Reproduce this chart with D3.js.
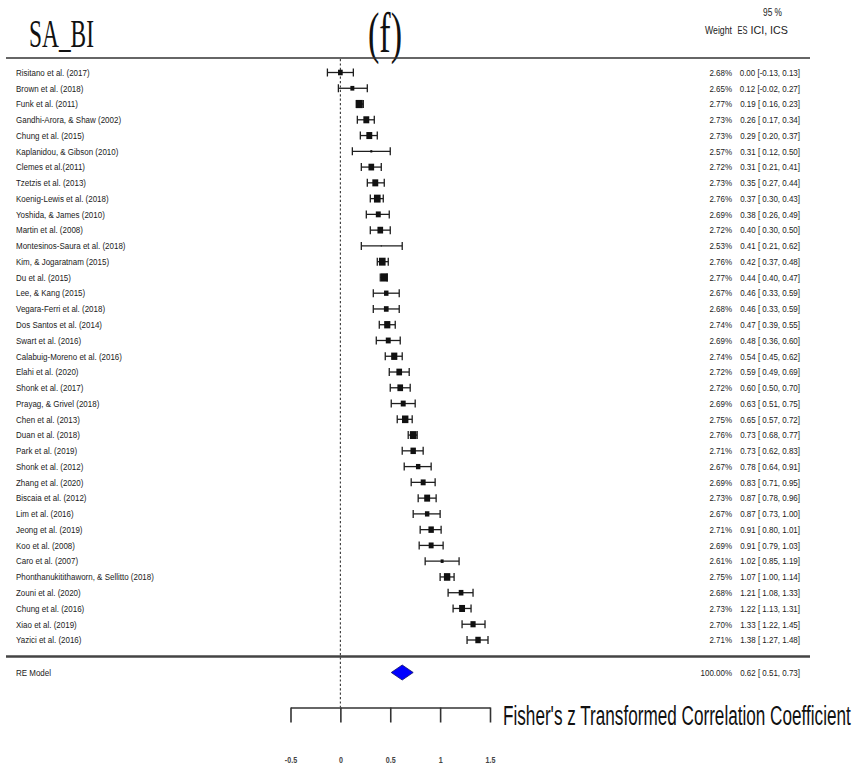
<!DOCTYPE html>
<html><head><meta charset="utf-8">
<script src="https://cdn.jsdelivr.net/npm/d3@7"></script>
<style>body{margin:0;background:#fff} svg{display:block} text{white-space:pre}</style>
</head><body>
<svg id="c" width="857" height="771"></svg>
<script>
// ---------- data ----------
const studies = [
"Risitano et al. (2017)","Brown et al. (2018)","Funk et al. (2011)","Gandhi-Arora, & Shaw (2002)",
"Chung et al. (2015)","Kaplanidou, & Gibson (2010)","Clemes et al.(2011)","Tzetzis et al. (2013)",
"Koenig-Lewis et al. (2018)","Yoshida, & James (2010)","Martin et al. (2008)","Montesinos-Saura et al. (2018)",
"Kim, & Jogaratnam (2015)","Du et al. (2015)","Lee, & Kang (2015)","Vegara-Ferri et al. (2018)",
"Dos Santos et al. (2014)","Swart et al. (2016)","Calabuig-Moreno et al. (2016)","Elahi et al. (2020)",
"Shonk et al. (2017)","Prayag, & Grivel (2018)","Chen et al. (2013)","Duan et al. (2018)",
"Park et al. (2019)","Shonk et al. (2012)","Zhang et al. (2020)","Biscaia et al. (2012)",
"Lim et al. (2016)","Jeong et al. (2019)","Koo et al. (2008)","Caro et al. (2007)",
"Phonthanukitithaworn, & Sellitto (2018)","Zouni et al. (2020)","Chung et al. (2016)","Xiao et al. (2019)",
"Yazici et al. (2016)"];
const weights = [2.68,2.65,2.77,2.73,2.73,2.57,2.72,2.73,2.76,2.69,2.72,2.53,2.76,2.77,2.67,2.68,2.74,2.69,2.74,2.72,
2.72,2.69,2.75,2.76,2.71,2.67,2.69,2.73,2.67,2.71,2.69,2.61,2.75,2.68,2.73,2.70,2.71];
const es = [0.00,0.12,0.19,0.26,0.29,0.31,0.31,0.35,0.37,0.38,0.40,0.41,0.42,0.44,0.46,0.46,0.47,0.48,0.54,0.59,
0.60,0.63,0.65,0.73,0.73,0.78,0.83,0.87,0.87,0.91,0.91,1.02,1.07,1.21,1.22,1.33,1.38];
const ciLow = [-0.13,-0.02,0.16,0.17,0.20,0.12,0.21,0.27,0.30,0.26,0.30,0.21,0.37,0.40,0.33,0.33,0.39,0.36,0.45,0.49,
0.50,0.51,0.57,0.68,0.62,0.64,0.71,0.78,0.73,0.80,0.79,0.85,1.00,1.08,1.13,1.22,1.27];
const ciHigh = [0.13,0.27,0.23,0.34,0.37,0.50,0.41,0.44,0.43,0.49,0.50,0.62,0.48,0.47,0.59,0.59,0.55,0.60,0.62,0.69,
0.70,0.75,0.72,0.77,0.83,0.91,0.95,0.96,1.00,1.01,1.03,1.19,1.14,1.33,1.31,1.45,1.48];
const summaryLabel = "RE Model";
const summaryWeight = "100.00%";
const summaryES = 0.62, summaryLow = 0.51, summaryHigh = 0.73;
const xTicks = [-0.5, 0, 0.5, 1, 1.5];
const xTickLabels = ["-0.5","0","0.5","1","1.5"];
const titleText = "SA_BI", panelText = "(f)";
const xAxisTitle = "Fisher's z Transformed Correlation Coefficient";

// ---------- drawing ----------
const svg = d3.select("#c");
const SANS = "'Liberation Sans', Arial, sans-serif";
const SERIF = "'Liberation Serif', 'Times New Roman', serif";
const SX = 0.84; // horizontal condensation of small text

// place a text starting at (x0, yb) and squeeze it horizontally to a target width
function fitText(txt, x0, yb, width, family, fs, fill) {
  const t = svg.append("text").attr("font-family", family).attr("font-size", fs).attr("fill", fill || "#111").text(txt);
  const w = t.node().getComputedTextLength();
  t.attr("transform", `translate(${x0},${yb}) scale(${width / w},1)`);
  return t;
}

const x = d3.scaleLinear().domain([-0.5, 1.5]).range([290.5, 490]);
const y = d3.scalePoint().domain(d3.range(studies.length)).range([72.5, 640]);
const ySum = 672.5;
const size = d3.scaleLinear().domain([d3.min(weights), d3.max(weights)]).range([1.2, 8.2]);
const fmt = v => v.toFixed(2);
const ciText = (e, l, h) => `${fmt(e)} [${l < 0 ? "" : " "}${fmt(l)}, ${fmt(h)}]`;

// title
fitText(titleText, 29, 47, 65, SERIF, 40);
fitText(panelText, 368, 52, 34, SERIF, 56);

// header right
fitText("95 %", 763, 16, 19, SANS, 10.5, "#222");
fitText("Weight", 705, 34, 27, SANS, 10.5, "#222");
fitText("ES", 737.5, 34, 10, SANS, 10.5, "#222");
fitText("ICI, ICS", 750.5, 34, 37.5, SANS, 10.5, "#222");

// horizontal rules
svg.append("line").attr("x1", 6).attr("x2", 810).attr("y1", 58).attr("y2", 58)
  .attr("stroke", "#333").attr("stroke-width", 1.6);
svg.append("line").attr("x1", 6).attr("x2", 810).attr("y1", 656.5).attr("y2", 656.5)
  .attr("stroke", "#444").attr("stroke-width", 2.6);

// zero reference line
svg.append("line").attr("x1", x(0)).attr("x2", x(0)).attr("y1", 59).attr("y2", 707)
  .attr("stroke", "#333").attr("stroke-width", 1.1).attr("stroke-dasharray", "2.2,2.2");

// study labels
const lab = svg.append("g").attr("font-family", SANS).attr("font-size", 9.5).attr("fill", "#1a1a1a");
lab.selectAll("text.s").data(studies).join("text").attr("class", "s")
  .attr("transform", (d, i) => `translate(16,${y(i) + 3.3}) scale(${SX},1)`).text(d => d);
lab.append("text").attr("transform", `translate(16,${ySum + 3.3}) scale(${SX},1)`).text(summaryLabel);

// right columns
lab.selectAll("text.w").data(weights).join("text").attr("class", "w").attr("text-anchor", "end")
  .attr("transform", (d, i) => `translate(732,${y(i) + 3.3}) scale(${SX},1)`).text(d => fmt(d) + "%");
lab.selectAll("text.e").data(es).join("text").attr("class", "e").attr("text-anchor", "end")
  .attr("transform", (d, i) => `translate(800,${y(i) + 3.3}) scale(${SX},1)`)
  .text((d, i) => ciText(d, ciLow[i], ciHigh[i]));
lab.append("text").attr("text-anchor", "end").attr("transform", `translate(732,${ySum + 3.3}) scale(${SX},1)`).text(summaryWeight);
lab.append("text").attr("text-anchor", "end").attr("transform", `translate(800,${ySum + 3.3}) scale(${SX},1)`)
  .text(ciText(summaryES, summaryLow, summaryHigh));

// CIs
const ci = svg.append("g").attr("stroke", "#1e1e1e").attr("stroke-width", 1.3).attr("fill", "none");
es.forEach((d, i) => {
  const yy = y(i);
  ci.append("line").attr("x1", x(ciLow[i])).attr("x2", x(ciHigh[i])).attr("y1", yy).attr("y2", yy);
  ci.append("line").attr("x1", x(ciLow[i])).attr("x2", x(ciLow[i])).attr("y1", yy - 4).attr("y2", yy + 4);
  ci.append("line").attr("x1", x(ciHigh[i])).attr("x2", x(ciHigh[i])).attr("y1", yy - 4).attr("y2", yy + 4);
});
// squares
svg.append("g").attr("fill", "#111").selectAll("rect").data(es).join("rect")
  .attr("x", (d, i) => x(d) - size(weights[i]) * 0.42)
  .attr("y", (d, i) => y(i) - size(weights[i]) / 2)
  .attr("width", (d, i) => size(weights[i]) * 0.84)
  .attr("height", (d, i) => size(weights[i]));

// summary diamond
svg.append("path")
  .attr("d", `M${x(summaryLow)},${ySum} L${x(summaryES)},${ySum - 7.5} L${x(summaryHigh)},${ySum} L${x(summaryES)},${ySum + 7.5} Z`)
  .attr("fill", "#0000ff").attr("stroke", "#111166").attr("stroke-width", 0.8);

// x axis
const axis = svg.append("g").attr("transform", "translate(0,707.5)")
  .call(d3.axisBottom(x).tickValues(xTicks).tickFormat((d, i) => xTickLabels[i]).tickSize(15).tickSizeOuter(0).tickPadding(34));
axis.select(".domain").attr("stroke", "#333").attr("stroke-width", 1.6);
axis.selectAll(".tick line").attr("stroke", "#333").attr("stroke-width", 1.6);
axis.selectAll(".tick text").attr("font-family", SANS).attr("font-size", 9.5).attr("font-weight", "bold")
  .attr("fill", "#444").attr("transform", "scale(0.75,1)");

fitText(xAxisTitle, 503, 725, 348, SANS, 28);
</script>
</body></html>
